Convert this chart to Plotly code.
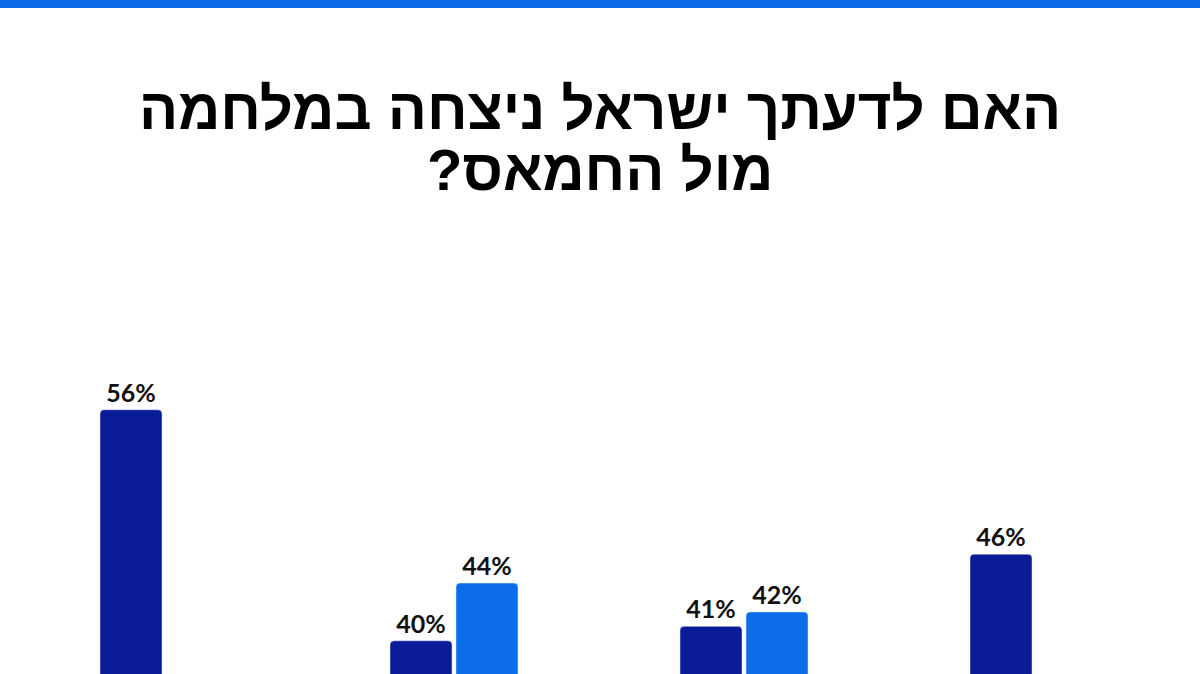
import plotly.graph_objects as go

categories = ["קבוצה 1", "קבוצה 2", "קבוצה 3", "קבוצה 4"]
series_dark = [56, 40, 41, 46]
series_light = [None, 44, 42, None]

title_line1 = "האם לדעתך ישראל ניצחה במלחמה"
title_line2 = "מול החמאס?\u200f"

dark = "#0A1B98"
light = "#0B6EE8"

fig = go.Figure()
fig.add_trace(go.Bar(x=categories, y=series_dark, marker_color=dark,
                     texttemplate="%{y}%", textposition="outside",
                     cliponaxis=False))
fig.add_trace(go.Bar(x=categories, y=series_light, marker_color=light,
                     texttemplate="%{y}%", textposition="outside",
                     cliponaxis=False))
fig.update_traces(textfont=dict(family="Lato", size=25, color="#111111", weight="bold"))

fig.update_layout(
    width=1200, height=674,
    margin=dict(l=19, r=21, t=300, b=0),
    paper_bgcolor="white", plot_bgcolor="white",
    barmode="group", bargap=0.545, bargroupgap=0.06,
    barcornerradius=4,
    showlegend=False,
    font=dict(family="Liberation Sans"),
)
fig.update_xaxes(showgrid=False, zeroline=False, showticklabels=False,
                 showline=False, range=[-0.5, 3.5])
fig.update_yaxes(showgrid=False, zeroline=False, showticklabels=False,
                 range=[37.7, 63.6])

# top stripe
fig.add_shape(type="rect", xref="paper", yref="paper",
              x0=-19 / 1160, x1=1 + 21 / 1160, y0=1 + 292 / 374, y1=1 + 300 / 374,
              fillcolor="#0A6BE8", line_width=0, layer="above")

fig.add_annotation(text=title_line1, xref="paper", yref="paper",
                   x=(600 - 19) / 1160, y=1 + (300 - 109) / 374,
                   xanchor="center", yanchor="middle", showarrow=False,
                   font=dict(family="Liberation Sans", size=58, color="black", weight="bold"))
fig.add_annotation(text=title_line2, xref="paper", yref="paper",
                   x=(600 - 19) / 1160, y=1 + (300 - 170) / 374,
                   xanchor="center", yanchor="middle", showarrow=False,
                   font=dict(family="Liberation Sans", size=58, color="black", weight="bold"))

fig.write_html("out.html", config={"displayModeBar": False},
               post_script="document.body.style.margin='0';")
